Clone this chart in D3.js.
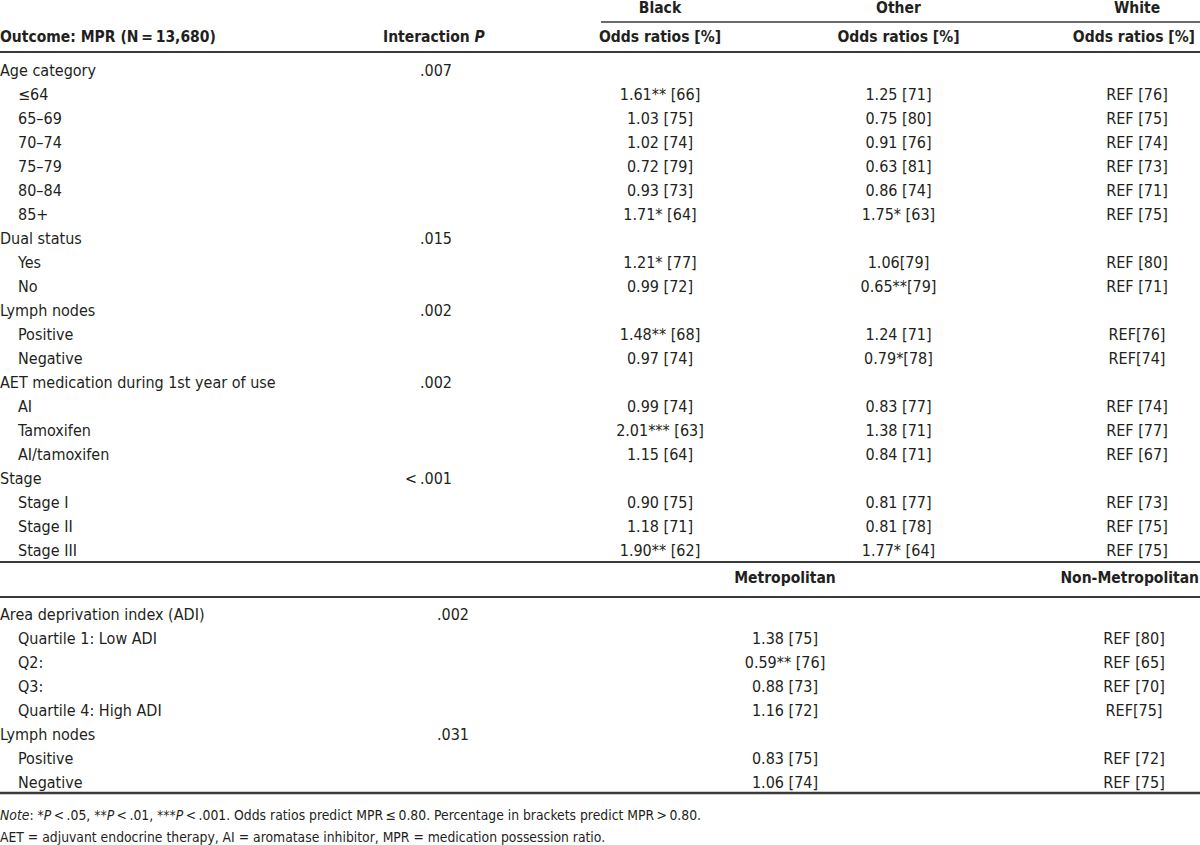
<!DOCTYPE html>
<html><head><meta charset="utf-8">
<script src="https://cdn.jsdelivr.net/npm/d3@7"></script>
<style>
body{margin:0;background:#fff;}
svg text{font-family:"Liberation Sans Narrow","Arial Narrow","DejaVu Sans Condensed",sans-serif;fill:#231f20;}
</style></head>
<body><svg id="c" width="1200" height="845"></svg>
<script>
// ---- data ----
const groupHeaders1 = ["Black", "Other", "White"];
const subHeader = "Odds ratios [%]";
const rowLabels1 = ["Age category","\u226464","65\u201369","70\u201374","75\u201379","80\u201384","85+",
  "Dual status","Yes","No","Lymph nodes","Positive","Negative",
  "AET medication during 1st year of use","AI","Tamoxifen","AI/tamoxifen",
  "Stage","Stage I","Stage II","Stage III"];
const rowIndent1 = [0,1,1,1,1,1,1,0,1,1,0,1,1,0,1,1,1,0,1,1,1];
const pValues1 = [".007","","","","","","",".015","","",".002","","",".002","","","","<.001","","",""];
const blackVals = ["","1.61** [66]","1.03 [75]","1.02 [74]","0.72 [79]","0.93 [73]","1.71* [64]",
  "","1.21* [77]","0.99 [72]","","1.48** [68]","0.97 [74]","","0.99 [74]","2.01*** [63]","1.15 [64]",
  "","0.90 [75]","1.18 [71]","1.90** [62]"];
const otherVals = ["","1.25 [71]","0.75 [80]","0.91 [76]","0.63 [81]","0.86 [74]","1.75* [63]",
  "","1.06[79]","0.65**[79]","","1.24 [71]","0.79*[78]","","0.83 [77]","1.38 [71]","0.84 [71]",
  "","0.81 [77]","0.81 [78]","1.77* [64]"];
const whiteVals = ["","REF [76]","REF [75]","REF [74]","REF [73]","REF [71]","REF [75]",
  "","REF [80]","REF [71]","","REF[76]","REF[74]","","REF [74]","REF [77]","REF [67]",
  "","REF [73]","REF [75]","REF [75]"];
const groupHeaders2 = ["Metropolitan","Non-Metropolitan"];
const rowLabels2 = ["Area deprivation index (ADI)","Quartile 1: Low ADI","Q2:","Q3:","Quartile 4: High ADI",
  "Lymph nodes","Positive","Negative"];
const rowIndent2 = [0,1,1,1,1,0,1,1];
const pValues2 = [".002","","","","",".031","",""];
const metroVals = ["","1.38 [75]","0.59** [76]","0.88 [73]","1.16 [72]","","0.83 [75]","1.06 [74]"];
const nonMetroVals = ["","REF [80]","REF [65]","REF [70]","REF[75]","","REF [72]","REF [75]"];

// ---- drawing ----
const svg = d3.select("#c");
const W = 1200, FS = 16, BFS = 15.5;
const y1 = d3.scalePoint().domain(d3.range(rowLabels1.length)).range([70, 550]);
const y2 = d3.scalePoint().domain(d3.range(rowLabels2.length)).range([614, 782]);
const x1 = d3.scalePoint().domain(groupHeaders1).range([660, 1137]);
const x2 = d3.scalePoint().domain(groupHeaders2).range([785, 1134]);

function hline(y, x0, x1_, w){
  svg.append("line").attr("x1",x0).attr("x2",x1_).attr("y1",y).attr("y2",y)
    .attr("stroke","#3a3a3a").attr("stroke-width",w);
}
hline(22, 601, W, 1.6);
hline(52, 0, W, 2.2);
hline(562, 0, W, 2.2);
hline(597, 0, W, 2.2);
hline(793, 0, W, 2.6);

// headers
svg.selectAll("text.gh1").data(groupHeaders1).join("text")
  .attr("x", d => x1(d)).attr("y", 8).attr("dy","0.35em")
  .attr("text-anchor","middle").attr("font-weight","bold").attr("font-size",BFS).text(d => d);
svg.selectAll("text.sh1").data(groupHeaders1).join("text")
  .attr("x", d => d === "White" ? W - 5 : x1(d)).attr("y", 37).attr("dy","0.35em")
  .attr("text-anchor", d => d === "White" ? "end" : "middle")
  .attr("font-weight","bold").attr("font-size",BFS).text(subHeader);
svg.append("text").attr("x",0).attr("y",37).attr("dy","0.35em").attr("font-weight","bold").attr("font-size",BFS)
  .text("Outcome: MPR (N\u2009=\u200913,680)");
const ip = svg.append("text").attr("x",383).attr("y",37).attr("dy","0.35em").attr("font-weight","bold").attr("font-size",BFS);
ip.append("tspan").text("Interaction ");
ip.append("tspan").attr("font-style","italic").text("P");

function rows(labels, indents, pv, ys, pxRight){
  const g = svg.append("g");
  g.selectAll("text.lab").data(labels).join("text")
    .attr("x",(d,i)=> indents[i] ? 18 : 0).attr("y",(d,i)=>ys(i)).attr("dy","0.35em")
    .attr("font-size",FS).text(d=>d);
  g.selectAll("text.p").data(pv).join("text")
    .attr("x",pxRight).attr("y",(d,i)=>ys(i)).attr("dy","0.35em")
    .attr("text-anchor","end").attr("font-size",FS).text(d=>d.replace("<","<\u2009"));
}
rows(rowLabels1, rowIndent1, pValues1, y1, 452);
[[blackVals,"Black"],[otherVals,"Other"],[whiteVals,"White"]].forEach(([vals,key])=>{
  svg.append("g").selectAll("text").data(vals).join("text")
    .attr("x",x1(key)).attr("y",(d,i)=>y1(i)).attr("dy","0.35em")
    .attr("text-anchor","middle").attr("font-size",FS).text(d=>d);
});

// section 2
svg.selectAll("text.gh2").data(groupHeaders2).join("text")
  .attr("x", d => d === "Non-Metropolitan" ? W - 1 : x2(d)).attr("y", 578).attr("dy","0.35em")
  .attr("text-anchor", d => d === "Non-Metropolitan" ? "end" : "middle")
  .attr("font-weight","bold").attr("font-size",BFS).text(d=>d);
rows(rowLabels2, rowIndent2, pValues2, y2, 469);
[[metroVals,"Metropolitan"],[nonMetroVals,"Non-Metropolitan"]].forEach(([vals,key])=>{
  svg.append("g").selectAll("text").data(vals).join("text")
    .attr("x",x2(key)).attr("y",(d,i)=>y2(i)).attr("dy","0.35em")
    .attr("text-anchor","middle").attr("font-size",FS).text(d=>d);
});

// notes
const NF = 13.8;
const n1 = svg.append("text").attr("x",0).attr("y",815).attr("dy","0.35em").attr("font-size",NF);
n1.append("tspan").attr("font-style","italic").text("Note");
n1.append("tspan").text(": *");
n1.append("tspan").attr("font-style","italic").text("P");
n1.append("tspan").text("\u2009<\u2009.05, **");
n1.append("tspan").attr("font-style","italic").text("P");
n1.append("tspan").text("\u2009<\u2009.01, ***");
n1.append("tspan").attr("font-style","italic").text("P");
n1.append("tspan").text("\u2009<\u2009.001. Odds ratios predict MPR\u2009\u2264\u20090.80. Percentage in brackets predict MPR\u2009>\u20090.80.");
svg.append("text").attr("x",0).attr("y",837).attr("dy","0.35em").attr("font-size",NF)
  .text("AET = adjuvant endocrine therapy, AI = aromatase inhibitor, MPR = medication possession ratio.");
</script></body></html>
